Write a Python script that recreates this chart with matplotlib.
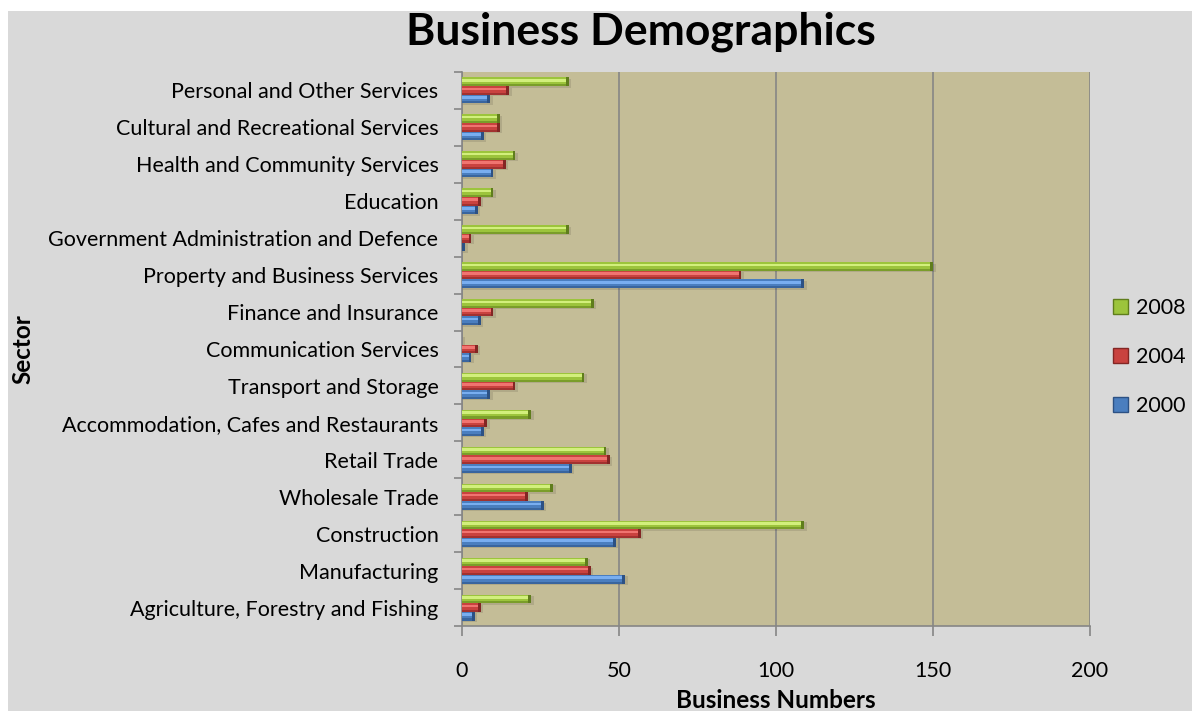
import numpy as np
import matplotlib
matplotlib.use('Agg')
import matplotlib.pyplot as plt
from matplotlib.patches import Rectangle, Patch

plt.rcParams['font.family'] = ['Lato', 'DejaVu Sans']

sectors = [
  'Agriculture, Forestry and Fishing',
  'Manufacturing',
  'Construction',
  'Wholesale Trade',
  'Retail Trade',
  'Accommodation, Cafes and Restaurants',
  'Transport and Storage',
  'Communication Services',
  'Finance and Insurance',
  'Property and Business Services',
  'Government Administration and Defence',
  'Education',
  'Health and Community Services',
  'Cultural and Recreational Services',
  'Personal and Other Services',
]
y2000 = [4, 52, 49, 26, 35, 7, 9, 3, 6, 109, 1, 5, 10, 7, 9]
y2004 = [6, 41, 57, 21, 47, 8, 17, 5, 10, 89, 3, 6, 14, 12, 15]
y2008 = [22, 40, 109, 29, 46, 22, 39, 0, 42, 150, 34, 10, 17, 12, 34]
years = ['2000', '2004', '2008']
x_ticks = [0, 50, 100, 150, 200]

# base, highlight, dark edge
colors = {
  '2000': ('#4a7ebf', '#79aef0', '#2c5184'),
  '2004': ('#c9423f', '#f07470', '#832624'),
  '2008': ('#9cc43c', '#d2ef7c', '#5f7d1c'),
}

def bevel_bars(ax, y, vals, h, cols):
  base, light, dark = cols
  vals = np.asarray(vals, dtype=float)
  # soft shadow
  ax.barh(y - 0.04, vals + 0.8, height=h, left=0, color='#000000', alpha=0.10, zorder=2)
  ax.barh(y, vals, height=h, color=base, edgecolor='none', zorder=3)
  ax.barh(y + h * 0.18, vals, height=h * 0.30, color=light, edgecolor='none', zorder=4)
  ax.barh(y - h * 0.38, vals, height=h * 0.24, color=dark, alpha=0.55, edgecolor='none', zorder=4)
  cap = np.where(vals > 0, 0.9, 0)
  ax.barh(y, cap, height=h, left=vals - cap, color=dark, edgecolor='none', zorder=5)

fig = plt.figure(figsize=(11.92, 7.11), dpi=100, facecolor='white')
fig.patches.append(Rectangle((8 / 1192, 0), 1, 1 - 11 / 711, transform=fig.transFigure,
                             facecolor='#d9d9d9', edgecolor='none', zorder=-5))

ax = fig.add_axes([462 / 1192, 1 - 626 / 711, 628 / 1192, 554 / 711])
ax.set_facecolor('#c4bd97')

pos = np.arange(len(sectors))
h = 0.235
series = {'2000': y2000, '2004': y2004, '2008': y2008}
for i, yr in enumerate(years):
  bevel_bars(ax, pos + (i - 1) * h, series[yr], h, colors[yr])

ax.set_xlim(0, 200)
ax.set_ylim(-0.5, len(sectors) - 0.5)
ax.set_xticks(x_ticks)
ax.set_yticks(pos)
ax.set_yticklabels(sectors)
ax.set_yticks(np.arange(len(sectors) + 1) - 0.5, minor=True)
ax.tick_params(axis='y', which='major', length=0, pad=17, labelsize=15.5, colors='black')
ax.tick_params(axis='y', which='minor', length=6, width=1.2, color='#868686')
ax.tick_params(axis='x', length=7, width=1.2, color='#868686', pad=18, labelsize=15.5)
ax.xaxis.grid(True, color='#868686', lw=1.2, zorder=1)
ax.set_axisbelow(True)
for s in ['top', 'right']:
  ax.spines[s].set_visible(False)
for s in ['left', 'bottom']:
  ax.spines[s].set_color('#868686')
  ax.spines[s].set_linewidth(1.2)

ax.set_xlabel('Business Numbers', fontsize=17.5, fontweight='bold', labelpad=6)
ax.set_ylabel('Sector', fontsize=17.5, fontweight='bold')
ax.yaxis.set_label_coords(-0.681, 0.5)
fig.text(0.538, 0.955, 'Business Demographics', fontsize=32, fontweight='bold',
         ha='center', va='center')

handles = [Patch(facecolor=colors[yr][0], edgecolor=colors[yr][2]) for yr in years[::-1]]
ax.legend(handles, years[::-1], loc='center left', bbox_to_anchor=(1.005, 0.485),
          frameon=False, fontsize=15.5, labelspacing=1.35, handlelength=0.7,
          handleheight=0.7, handletextpad=0.4)

fig.savefig('out.png', dpi=100, facecolor=fig.get_facecolor())
